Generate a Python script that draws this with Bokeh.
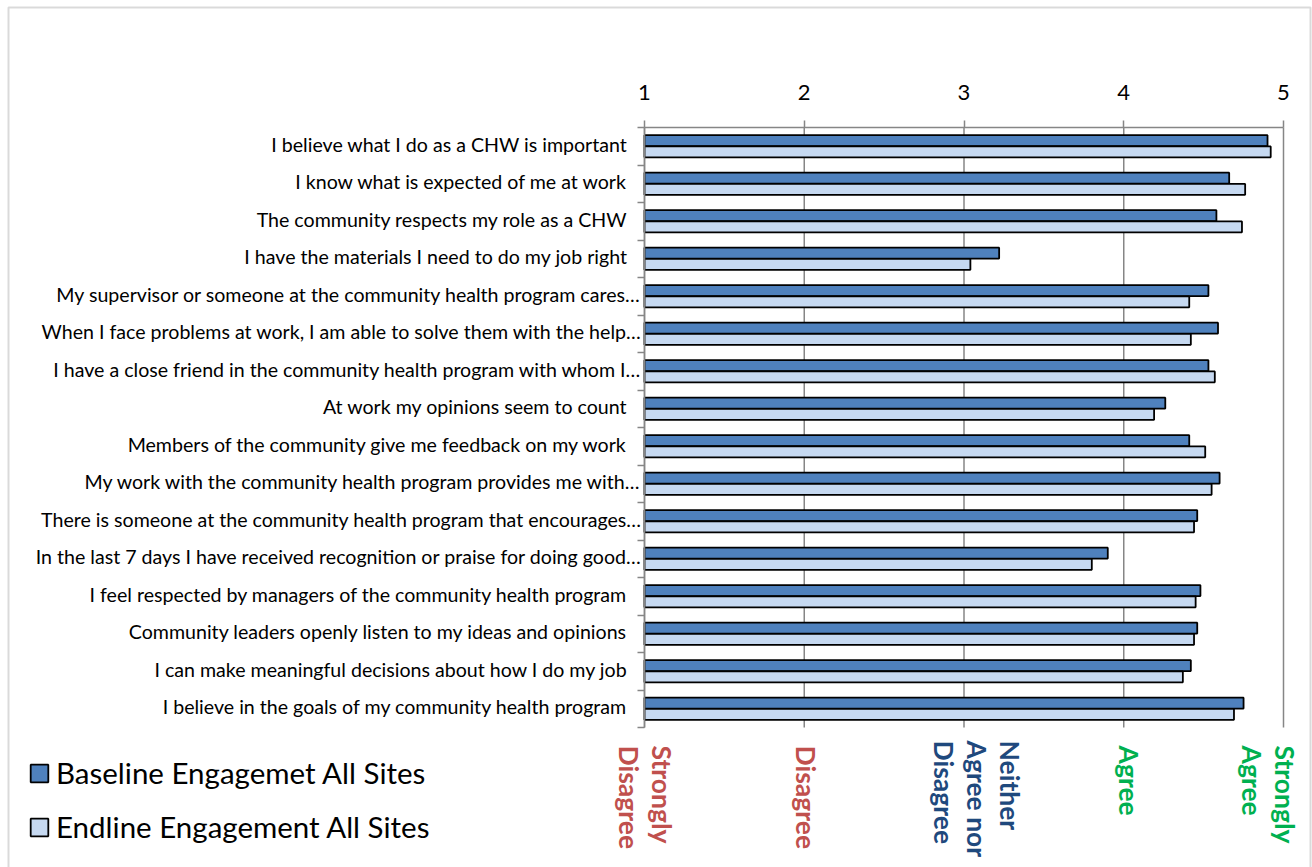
import numpy as np
from bokeh.plotting import figure
from bokeh.models import (ColumnDataSource, Range1d, FixedTicker, LinearAxis,
                          Legend, LegendItem, BoxAnnotation)
from bokeh.core.properties import value
from bokeh.embed import file_html
from bokeh.resources import INLINE

# ---------------- data ----------------
categories = [
    "I believe what I do as a CHW is important",
    "I know what is expected of me at work",
    "The community respects my role as a CHW",
    "I have the materials I need to do my job right",
    "My supervisor or someone at the community health program cares\u2026",
    "When I face problems at work, I am able to solve them with the help\u2026",
    "I have a close friend in the community health program with whom I\u2026",
    "At work my opinions seem to count",
    "Members of the community give me feedback on my work",
    "My work with the community health program provides me with\u2026",
    "There is someone at the community health program that encourages\u2026",
    "In the last 7 days I have received recognition or praise for doing good\u2026",
    "I feel respected by managers of the community health program",
    "Community leaders openly listen to my ideas and opinions",
    "I can make meaningful decisions about how I do my job",
    "I believe in the goals of my community health program",
]
baseline = [4.90, 4.66, 4.58, 3.22, 4.53, 4.59, 4.53, 4.26, 4.41, 4.60, 4.46, 3.90, 4.48, 4.46, 4.42, 4.75]
endline = [4.92, 4.76, 4.74, 3.04, 4.41, 4.42, 4.57, 4.19, 4.51, 4.55, 4.44, 3.80, 4.45, 4.44, 4.37, 4.69]
scale_ticks = [1, 2, 3, 4, 5]
scale_labels = [["Strongly", "Disagree"], ["Disagree"], ["Neither", "Agree nor", "Disagree"],
                ["Agree"], ["Strongly", "Agree"]]
series_names = ["Baseline Engagemet All Sites", "Endline Engagement All Sites"]

# ---------------- styles / layout ----------------
FONT = "Lato"
DARK = "#4F81BD"
LIGHT = "#C6D9F1"
GRID = "#868686"
scale_colors = ["#C0504D", "#C0504D", "#1F497D", "#00B050", "#00B050"]
scale_dx = [1, 2, 13, 5, -15]        # px shift of each scale-label block
scale_top = [745, 745, 740, 745, 745]  # px top of each scale-label block
LINE_GAP = 33

W, H = 1312, 867
CHART_L, CHART_R, CHART_T, CHART_B = 644, 1283, 127, 727

n = len(categories)
pos = np.arange(n)

u = (CHART_R - CHART_L) / (scale_ticks[-1] - scale_ticks[0])
row = (CHART_B - CHART_T) / n


def xd(px):
    return scale_ticks[0] + (px - CHART_L) / u


def yd(py):
    return -0.5 + (py - CHART_T) / row


p = figure(width=W, height=H, output_backend="svg", toolbar_location=None,
           x_range=Range1d(xd(0), xd(W)), y_range=Range1d(yd(H), yd(0)),
           x_axis_location=None, y_axis_location=None,
           min_border_left=0, min_border_right=0, min_border_top=0, min_border_bottom=0)
p.background_fill_color = "white"
p.border_fill_color = "white"
p.outline_line_color = None
p.xgrid.visible = False
p.ygrid.visible = False

# vertical grid lines across the category area
p.segment(x0=scale_ticks, y0=[-0.5] * len(scale_ticks), x1=scale_ticks,
          y1=[n - 0.5] * len(scale_ticks), line_color=GRID, line_width=1.5)

# bars
bar_h = 0.29
r1 = p.hbar(y=pos - 0.15, left=scale_ticks[0], right=baseline, height=bar_h,
            fill_color=DARK, line_color="black", line_width=1.8)
r2 = p.hbar(y=pos + 0.15, left=scale_ticks[0], right=endline, height=bar_h,
            fill_color=LIGHT, line_color="black", line_width=1.8)

# top value axis
xa = LinearAxis(fixed_location=-0.5, bounds=(scale_ticks[0], scale_ticks[-1]),
                ticker=FixedTicker(ticks=scale_ticks))
xa.axis_line_color = GRID
xa.axis_line_width = 1.5
xa.major_tick_line_color = GRID
xa.major_tick_line_width = 1.5
xa.major_tick_out = 7
xa.major_tick_in = 0
xa.minor_tick_line_color = None
xa.major_label_text_font = FONT
xa.major_label_text_font_size = "22px"
xa.major_label_text_color = "black"
xa.major_label_standoff = 21
p.add_layout(xa, "above")

# left category axis (line + boundary ticks)
ya = LinearAxis(fixed_location=scale_ticks[0], bounds=(-0.5, n - 0.5),
                ticker=FixedTicker(ticks=[], minor_ticks=list(np.arange(n + 1) - 0.5)))
ya.axis_line_color = GRID
ya.axis_line_width = 1.5
ya.major_tick_line_color = None
ya.minor_tick_line_color = GRID
ya.minor_tick_line_width = 1.5
ya.minor_tick_out = 7
ya.minor_tick_in = 0
ya.major_label_text_font_size = "0px"
p.add_layout(ya, "left")

# category labels
cat_x = [xd(641) if c.endswith("\u2026") else xd(627) for c in categories]
p.text(x=cat_x, y=pos - 2 / row, text=categories, text_align="right", text_baseline="middle",
       text_font=value(FONT), text_font_size="19.6px", text_color="black")

# agreement-scale labels under the chart
lx, ly, lt, lc = [], [], [], []
for t, lines, col, dx, top in zip(scale_ticks, scale_labels, scale_colors, scale_dx, scale_top):
    k = len(lines)
    cx = CHART_L + (t - scale_ticks[0]) * u + dx
    for j, line in enumerate(lines):
        lx.append(xd(cx + ((k - 1) / 2 - j) * LINE_GAP))
        ly.append(yd(top))
        lt.append(line)
        lc.append(col)
p.text(x=lx, y=ly, text=lt, text_color=lc, angle=-np.pi / 2,
       text_align="left", text_baseline="middle",
       text_font=value(FONT), text_font_size="26.5px", text_font_style="bold")

# legend
legend = Legend(items=[LegendItem(label=series_names[0], renderers=[r1]),
                       LegendItem(label=series_names[1], renderers=[r2])],
                location=(28, 23), orientation="vertical",
                label_text_font=FONT, label_text_font_size="29.5px", label_text_color="black",
                glyph_width=22, glyph_height=22, label_standoff=6, spacing=19,
                padding=0, margin=0, border_line_color=None, background_fill_alpha=0)
p.add_layout(legend, "center")

# outer chart border (its bottom edge lies below the visible page)
p.add_layout(BoxAnnotation(left=xd(8), right=xd(1310), top=yd(7), bottom=yd(H + 40),
                           fill_color=None, line_color=GRID, line_width=2))

open("out.html", "w").write(file_html(p, INLINE))
